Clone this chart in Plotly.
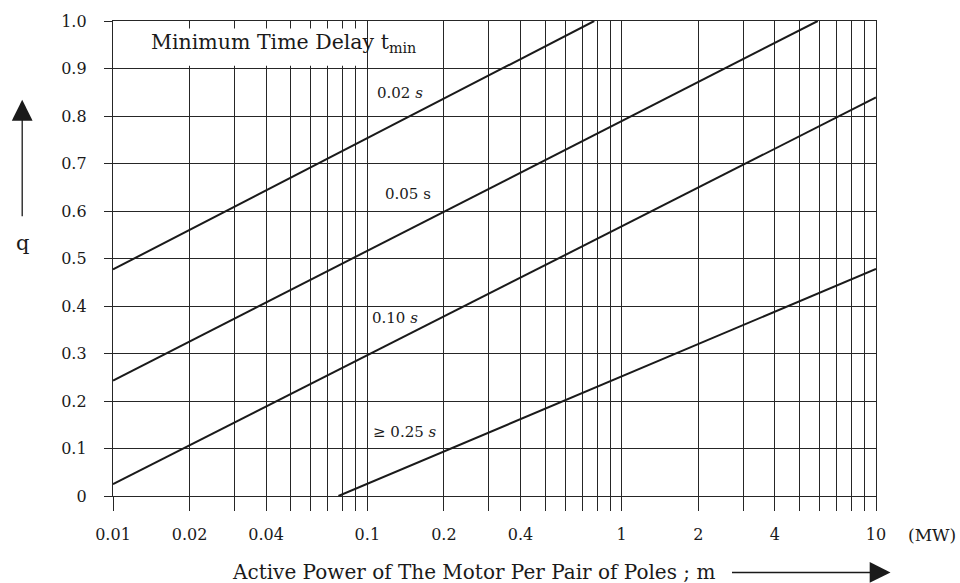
import math
import plotly.graph_objects as go

# ---- data ----
series_names = ["0.02 <i>s</i>", "0.05 s", "0.10 <i>s</i>", "\u2265 0.25 <i>s</i>"]
x_start = [0.01, 0.01, 0.01, 0.077]
y_start = [0.477, 0.243, 0.025, 0.0]
x_end = [0.78, 5.9, 10.0, 10.0]
y_end = [1.0, 1.0, 0.839, 0.478]

# label anchor points for each line (data coords)
label_x = [0.135, 0.145, 0.129, 0.141]
label_y = [0.849, 0.635, 0.375, 0.134]

x_grid = [0.01, 0.02, 0.03, 0.04, 0.05, 0.06, 0.07, 0.08, 0.09,
          0.1, 0.2, 0.3, 0.4, 0.5, 0.6, 0.7, 0.8, 0.9,
          1, 2, 3, 4, 5, 6, 7, 8, 9, 10]
x_labels = {0.01: "0.01", 0.02: "0.02", 0.04: "0.04", 0.1: "0.1", 0.2: "0.2",
            0.4: "0.4", 1: "1", 2: "2", 4: "4", 10: "10"}
y_grid = [0, 0.1, 0.2, 0.3, 0.4, 0.5, 0.6, 0.7, 0.8, 0.9, 1.0]
y_labels = ["0", "0.1", "0.2", "0.3", "0.4", "0.5", "0.6", "0.7", "0.8", "0.9", "1.0"]

FONT = "DejaVu Serif"
INK = "#1a1a1a"
GRID = "#262626"

fig = go.Figure()
for i, name in enumerate(series_names):
    fig.add_trace(go.Scatter(
        x=[x_start[i], x_end[i]], y=[y_start[i], y_end[i]],
        mode="lines", line=dict(color=INK, width=2), name=name,
        showlegend=False, hoverinfo="skip"))

# title box covering the grid (white) in upper-left
fig.add_shape(type="rect", xref="paper", yref="y",
              x0=0.0045, x1=0.329, y0=0.906, y1=0.984,
              fillcolor="white", line=dict(width=0), layer="above")
fig.add_annotation(x=math.log10(0.0467), y=0.953, xref="x", yref="y",
                   xanchor="center", yanchor="middle",
                   text="Minimum Time Delay t<sub>min</sub>", showarrow=False,
                   font=dict(family=FONT, size=20.5, color=INK))

for i, name in enumerate(series_names):
    fig.add_annotation(x=math.log10(label_x[i]), y=label_y[i], xref="x", yref="y",
                       xanchor="center", yanchor="middle",
                       text=name, showarrow=False,
                       font=dict(family=FONT, size=15, color=INK))

# axis titles with arrows
fig.add_annotation(x=0.473, y=-0.159, xref="paper", yref="paper",
                   xanchor="center", yanchor="middle",
                   text="Active Power of The Motor Per Pair of Poles ; m",
                   showarrow=False, font=dict(family=FONT, size=20, color=INK))
fig.add_annotation(x=1.019, y=-0.161, xref="paper", yref="paper", text="",
                   showarrow=True, ax=-160, ay=0, arrowhead=2, arrowsize=3.2,
                   arrowwidth=1.3, arrowcolor=INK)
fig.add_annotation(x=1.073, y=-0.082, xref="paper", yref="paper", text="(MW)",
                   xanchor="center", yanchor="middle",
                   showarrow=False, font=dict(family=FONT, size=17, color=INK))
fig.add_annotation(x=-0.119, y=0.532, xref="paper", yref="paper", text="q",
                   xanchor="center", yanchor="middle",
                   showarrow=False, font=dict(family=FONT, size=21, color=INK))
fig.add_annotation(x=-0.119, y=0.834, xref="paper", yref="paper", text="",
                   showarrow=True, ax=0, ay=118, arrowhead=2, arrowsize=3.2,
                   arrowwidth=1.3, arrowcolor=INK)

fig.update_xaxes(type="log", range=[-2, 1], tickvals=x_grid,
                 ticktext=[x_labels.get(v, "") for v in x_grid],
                 showgrid=True, gridcolor=GRID, gridwidth=1.3,
                 ticks="outside", ticklen=14, tickcolor=GRID, tickwidth=1.3,
                 ticklabelstandoff=10,
                 showline=True, mirror=True, linecolor=GRID, linewidth=1.3,
                 zeroline=False, tickfont=dict(family=FONT, size=16, color=INK))
fig.update_yaxes(range=[0, 1], tickvals=y_grid, ticktext=y_labels,
                 showgrid=True, gridcolor=GRID, gridwidth=1.3,
                 ticks="outside", ticklen=8, tickcolor=GRID, tickwidth=1.3,
                 ticklabelstandoff=14,
                 showline=True, mirror=True, linecolor=GRID, linewidth=1.3,
                 zeroline=False, tickfont=dict(family=FONT, size=16, color=INK))

fig.update_layout(width=960, height=583, margin=dict(l=113, r=84, t=19, b=87),
                  paper_bgcolor="white", plot_bgcolor="white", showlegend=False)

fig.write_html("out.html")
